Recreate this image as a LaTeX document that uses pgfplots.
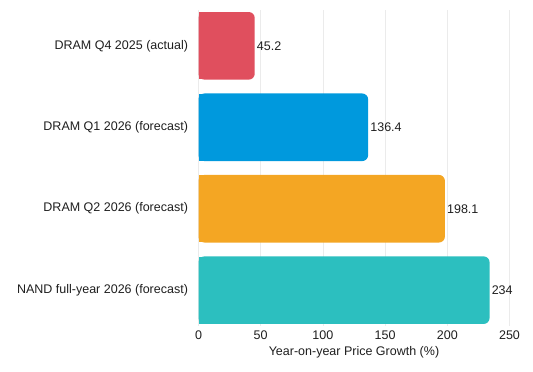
\documentclass[border=0pt]{standalone}
\usepackage{pgfplots}
\pgfplotsset{compat=1.18}
\usepackage{fontspec}
\setmainfont{Liberation Sans}
\definecolor{cred}{RGB}{224,79,94}
\definecolor{cblue}{RGB}{0,153,221}
\definecolor{corange}{RGB}{244,166,35}
\definecolor{cteal}{RGB}{44,191,191}
\definecolor{gridgray}{RGB}{235,235,235}
\definecolor{txt}{RGB}{30,30,30}
\begin{document}
\begin{tikzpicture}[x=1pt,y=1pt]
\useasboundingbox (0,0) rectangle (533,372);
\begin{axis}[
  at={(198.5pt,46pt)}, anchor=south west,
  scale only axis, width=311pt, height=316pt,
  xmin=0, xmax=250, ymin=-0.44, ymax=3.44, y dir=reverse,
  xtick={0,50,100,150,200,250}, ytick={0,1,2,3},
  yticklabels={DRAM Q4 2025 (actual),DRAM Q1 2026 (forecast),DRAM Q2 2026 (forecast),NAND full-year 2026 (forecast)},
  xmajorgrids, grid style={draw=gridgray, line width=0.8pt},
  axis line style={draw=none}, major tick length=0pt,
  /pgf/number format/assume math mode=true,
  tick label style={font=\fontsize{12.5}{14}\selectfont, text=txt},
  yticklabel style={xshift=-7pt},
  xticklabel style={yshift=-1.5pt},
  xlabel={Year-on-year Price Growth (\%)},
  xlabel style={font=\fontsize{12.5}{14}\selectfont, text=txt, at={(axis description cs:0.5,0)}, anchor=center, yshift=-26pt},
  xbar, bar shift=0pt, bar width=67.6pt,
  nodes near coords style={font=\fontsize{12.5}{14}\selectfont, text=txt, anchor=west, inner sep=2pt, /pgf/number format/fixed, /pgf/number format/precision=1, /pgf/number format/assume math mode=true},
]
% square left halves (keep the left corners square), slightly inset to avoid seams
\addplot[fill=cred, draw=none, bar width=66.8pt, x filter/.expression={x/2}] coordinates {(45.2,0)};
\addplot[fill=cblue, draw=none, bar width=66.8pt, x filter/.expression={x/2}] coordinates {(136.4,1)};
\addplot[fill=corange, draw=none, bar width=66.8pt, x filter/.expression={x/2}] coordinates {(198.1,2)};
\addplot[fill=cteal, draw=none, bar width=66.8pt, x filter/.expression={x/2}] coordinates {(234,3)};
% rounded bars
\addplot[fill=cred, draw=none, rounded corners=6pt, nodes near coords] coordinates {(45.2,0)};
\addplot[fill=cblue, draw=none, rounded corners=6pt, nodes near coords] coordinates {(136.4,1)};
\addplot[fill=corange, draw=none, rounded corners=6pt, nodes near coords] coordinates {(198.1,2)};
\addplot[fill=cteal, draw=none, rounded corners=6pt, nodes near coords] coordinates {(234,3)};
\end{axis}
\end{tikzpicture}
\end{document}
